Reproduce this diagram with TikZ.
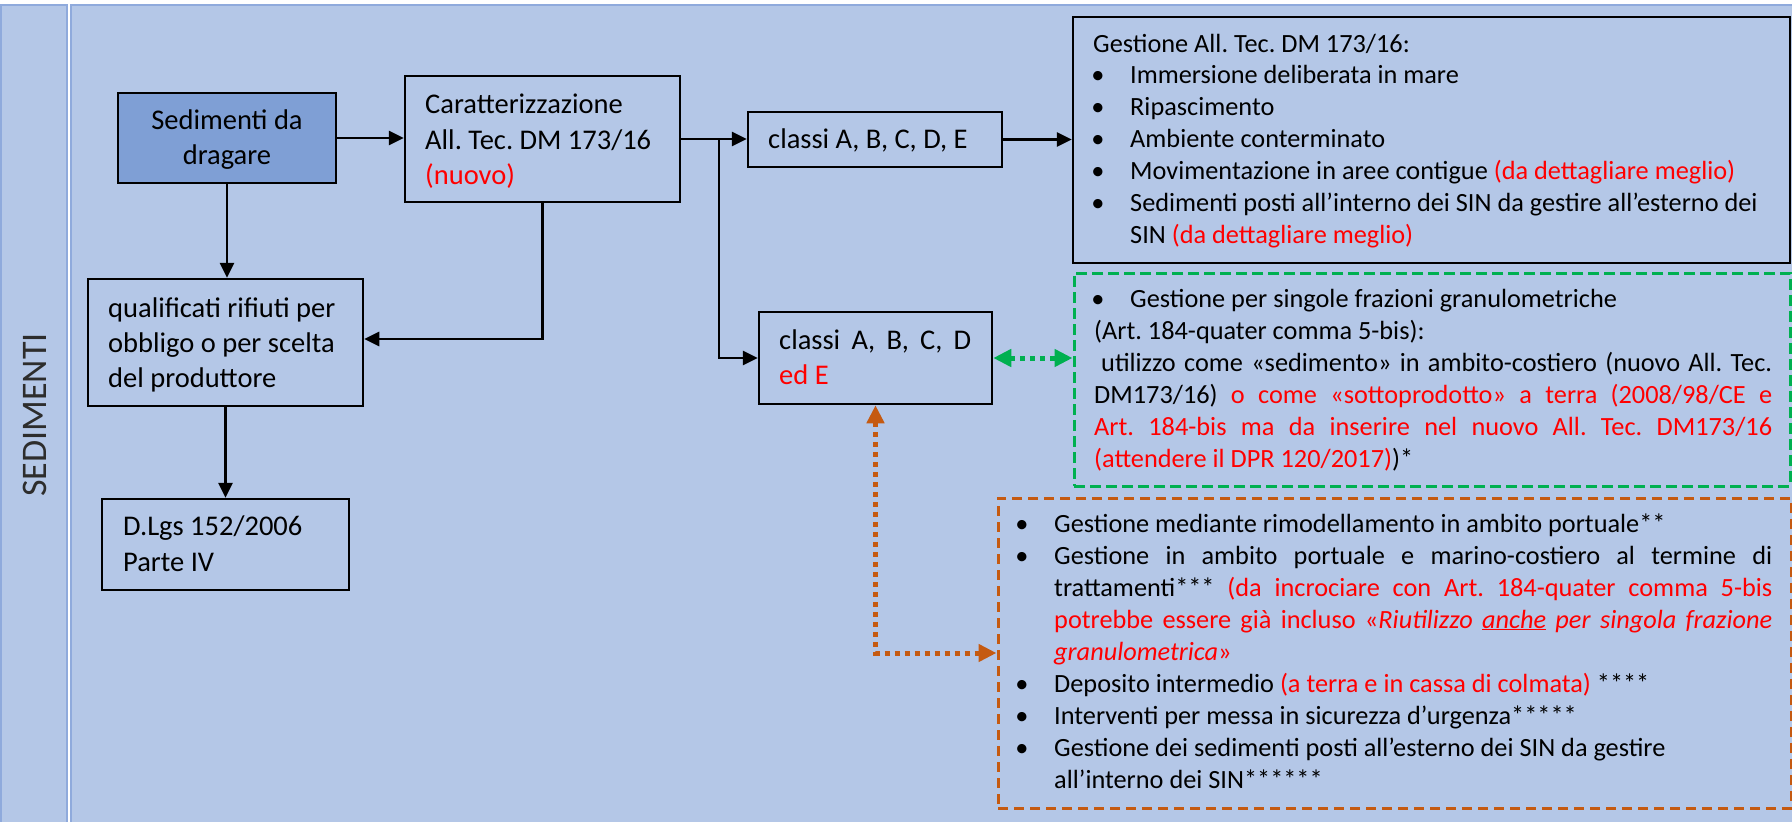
\documentclass[tikz,border=0pt]{standalone}
\usepackage{fontspec}
\setmainfont{Carlito}
\usetikzlibrary{arrows.meta}
\definecolor{lanefill}{RGB}{180,199,231}
\definecolor{laneline}{RGB}{143,170,220}
\definecolor{sedfill}{RGB}{127,159,213}
\definecolor{grn}{RGB}{0,176,80}
\definecolor{orng}{RGB}{197,90,17}
\definecolor{rd}{RGB}{255,0,0}
\newcommand\redtxt[1]{\textcolor{rd}{#1}}
\frenchspacing
\tikzset{
  boxnode/.style={draw=black, line width=2.5pt, inner sep=0pt},
  lt/.style={anchor=base west, inner sep=0pt, font=\fontsize{28.5}{35}\selectfont},
  ltc/.style={anchor=base, inner sep=0pt, font=\fontsize{28.5}{35}\selectfont},
  rt/.style={anchor=base west, inner sep=0pt, font=\fontsize{26.3}{32}\selectfont},
  bul/.style={anchor=base, inner sep=0pt, font=\fontsize{26.3}{32}\selectfont},
  arr/.style={line width=2.7pt, -{Triangle[length=15pt,width=14pt]}},
  garr/.style={draw=grn, line width=5pt, dash pattern=on 5pt off 5pt,
    {Triangle[length=18pt,width=17pt]}-{Triangle[length=18pt,width=17pt]}},
  oarr/.style={draw=orng, line width=5pt, dash pattern=on 5pt off 5pt,
    {Triangle[length=18pt,width=17pt]}-{Triangle[length=18pt,width=17pt]}},
}
\begin{document}
\frenchspacing
\begin{tikzpicture}[x=1pt,y=-1pt]
\useasboundingbox (0,0) rectangle (1792,822);
\fill[white] (0,0) rectangle (1792,822);
% lanes
\draw[fill=lanefill, draw=laneline, line width=1.5pt] (1,5) rectangle (67,840);
\draw[fill=lanefill, draw=laneline, line width=1.5pt] (71,5) rectangle (1810,840);
\node[rotate=90, inner sep=0pt, font=\fontsize{36}{40}\selectfont, text={rgb,255:red,45;green,45;blue,45}] (lane) at (35,415) {SEDIMENTI};

% boxes
\node[boxnode, fill=sedfill, minimum width=218pt, minimum height=90pt] (sed) at (227,138) {};
\node[boxnode, minimum width=275pt, minimum height=126pt] (carat) at (542.5,139) {};
\node[boxnode, minimum width=275pt, minimum height=127pt] (qual) at (225.5,342.5) {};
\node[boxnode, minimum width=247pt, minimum height=91pt] (dlgs) at (225.5,544.5) {};
\node[boxnode, minimum width=254pt, minimum height=55pt] (cl1) at (875,139.5) {};
\node[boxnode, minimum width=233pt, minimum height=92pt] (cl2) at (875.5,358) {};
\node[boxnode, minimum width=717pt, minimum height=246pt] (gest) at (1431.5,140) {};
\node[draw=grn, line width=3pt, dash pattern=on 11pt off 5pt, inner sep=0pt, minimum width=716pt, minimum height=213pt] (green) at (1432,379.5) {};
\node[draw=orng, line width=3pt, dash pattern=on 10pt off 6pt, inner sep=0pt, minimum width=793pt, minimum height=310pt] (orange) at (1394.5,653) {};

% left texts
\node[ltc] (s1) at (227,129) {Sedimenti da};
\node[ltc] (s2) at (227,164) {dragare};
\node[lt] (c1) at (425,113) {Caratterizzazione};
\node[lt] (c2) at (425,149) {All. Tec. DM 173/16};
\node[lt] (c3) at (425,184) {\redtxt{(nuovo)}};
\node[lt] (q1) at (108,317) {qualificati rifiuti per};
\node[lt] (q2) at (108,352) {obbligo o per scelta};
\node[lt] (q3) at (108,387) {del produttore};
\node[lt] (d1) at (123,535) {D.Lgs 152/2006};
\node[lt] (d2) at (123,571) {Parte IV};
\node[lt] (k1) at (768,148) {classi A, B, C, D, E};
\node[lt] (k2) at (779,349) {\makebox[192pt][s]{classi A, B, C, D}};
\node[lt] (k3) at (779,384) {\redtxt{ed E}};

% Gestione box
\node[rt] (g0) at (1093,52) {Gestione All. Tec. DM 173/16:};
\node[bul] (gb1) at (1098,83) {\textbullet};
\node[rt] (g1) at (1130,83) {Immersione deliberata in mare};
\node[bul] (gb2) at (1098,115) {\textbullet};
\node[rt] (g2) at (1130,115) {Ripascimento};
\node[bul] (gb3) at (1098,147) {\textbullet};
\node[rt] (g3) at (1130,147) {Ambiente conterminato};
\node[bul] (gb4) at (1098,179) {\textbullet};
\node[rt] (g4) at (1130,179) {Movimentazione in aree contigue \redtxt{(da dettagliare meglio)}};
\node[bul] (gb5) at (1098,211) {\textbullet};
\node[rt] (g5) at (1130,211) {Sedimenti posti all’interno dei SIN da gestire all’esterno dei};
\node[rt] (g6) at (1130,243) {SIN \redtxt{(da dettagliare meglio)}};

% green box
\node[bul] (vb1) at (1098,307) {\textbullet};
\node[rt] (v1) at (1130,307) {Gestione per singole frazioni granulometriche};
\node[rt] (v2) at (1094,339) {(Art. 184-quater comma 5-bis):};
\node[rt] (v3) at (1101,371) {\makebox[671pt][s]{utilizzo come «sedimento» in ambito-costiero (nuovo All. Tec.}};
\node[rt] (v4) at (1094,403) {\makebox[678pt][s]{DM173/16) \redtxt{o} \redtxt{come} \redtxt{«sottoprodotto»} \redtxt{a} \redtxt{terra} \redtxt{(2008/98/CE} \redtxt{e}}};
\node[rt] (v5) at (1094,435) {\color{rd}\makebox[678pt][s]{Art. 184-bis ma da inserire nel nuovo All. Tec. DM173/16}};
\node[rt] (v6) at (1094,467) {\redtxt{(attendere il DPR 120/2017)})*};

% orange box
\node[bul] (ob1) at (1022,532) {\textbullet};
\node[rt] (o1) at (1054,532) {Gestione mediante rimodellamento in ambito portuale**};
\node[bul] (ob2) at (1022,564) {\textbullet};
\node[rt] (o2) at (1054,564) {\makebox[718pt][s]{Gestione in ambito portuale e marino-costiero al termine di}};
\node[rt] (o3) at (1054,596) {\makebox[718pt][s]{trattamenti*** \redtxt{(da} \redtxt{incrociare} \redtxt{con} \redtxt{Art.} \redtxt{184-quater} \redtxt{comma} \redtxt{5-bis}}};
\node[rt] (o4) at (1054,628) {\color{rd}\makebox[718pt][s]{potrebbe essere già incluso «\textit{Riutilizzo} \textit{\underline{anche}} \textit{per} \textit{singola} \textit{frazione}}};
\node[rt] (o5) at (1054,660) {\color{rd}\textit{granulometrica}»};
\node[bul] (ob3) at (1022,692) {\textbullet};
\node[rt] (o6) at (1054,692) {Deposito intermedio \redtxt{(a terra e in cassa di colmata)} ****};
\node[bul] (ob4) at (1022,724) {\textbullet};
\node[rt] (o7) at (1054,724) {Interventi per messa in sicurezza d’urgenza*****};
\node[bul] (ob5) at (1022,756) {\textbullet};
\node[rt] (o8) at (1054,756) {Gestione dei sedimenti posti all’esterno dei SIN da gestire};
\node[rt] (o9) at (1054,788) {all’interno dei SIN******};

% connectors
\draw[arr] (sed.east) -- (sed.east -| carat.west);
\draw[arr] (sed.south) -- (sed.south |- qual.north);
\draw[arr] (carat.south) |- ([yshift=3.5pt]qual.east);
\draw[arr] (qual.south) -- (qual.south |- dlgs.north);
\draw[arr] (carat.east) -- (carat.east -| cl1.west);
\coordinate (br) at (719,139);
\draw[arr] (br) |- (cl2.west);
\draw[arr] (cl1.east) -- (cl1.east -| gest.west);
\draw[garr] (cl2.east) -- (cl2.east -| green.west);
\draw[oarr] (cl2.south) |- (orange.west);
\end{tikzpicture}
\end{document}
